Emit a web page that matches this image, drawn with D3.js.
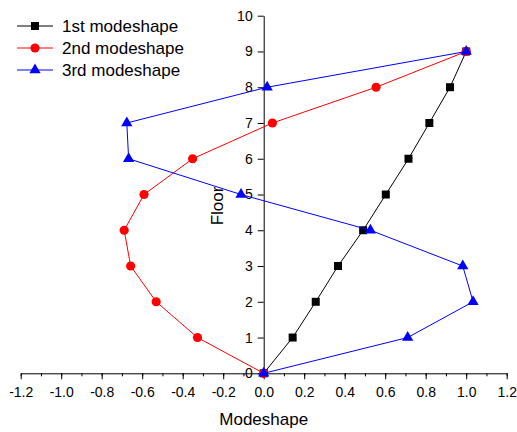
<!DOCTYPE html>
<html>
<head>
<meta charset="utf-8">
<script src="https://cdn.jsdelivr.net/npm/d3@7"></script>
<style>
  body { margin: 0; background: #fff; }
  text { font-family: "Liberation Sans", Arial, sans-serif; fill: #000; }
</style>
</head>
<body>
<div id="chart"></div>
<script>
var floors = [0, 1, 2, 3, 4, 5, 6, 7, 8, 9];
var mode1 = [0, 0.143, 0.257, 0.367, 0.491, 0.603, 0.715, 0.818, 0.920, 1.0];
var mode2 = [0, -0.327, -0.531, -0.657, -0.689, -0.591, -0.351, 0.043, 0.555, 1.0];
var mode3 = [0, 0.711, 1.034, 0.983, 0.527, -0.112, -0.667, -0.676, 0.017, 1.0];
var seriesNames = ["1st modeshape", "2nd modeshape", "3rd modeshape"];
var xTicks = d3.range(-12, 13, 2).map(v => v / 10);
var xMinor = d3.range(-12, 13, 1).map(v => v / 10);
var yTicks = d3.range(0, 11);

var width = 517, height = 432;
var color_1 = "#000000", color_2 = "#ff0000", color_3 = "#0000ff";

var svg = d3.select("#chart")
    .append("svg")
    .attr("width", width)
    .attr("height", height);

var x = d3.scaleLinear().domain([-1.2, 1.2]).range([20.7, 506.7]);
var y = d3.scaleLinear().domain([0, 10]).range([373.3, 15.7]);

//axis label on y, drawn first so lines go over it
svg.append("text")
    .attr("transform", "translate(223,206) rotate(-90)")
    .attr("text-anchor", "middle")
    .style("font-size", "17px")
    .text("Floor");

//x axis, minor ticks then major
svg.append("g")
    .attr("transform", "translate(0," + y(0) + ")")
    .call(d3.axisBottom(x).tickValues(xMinor).tickSize(3).tickFormat(""))
    .call(g => g.select(".domain").remove());

var gx = svg.append("g")
    .attr("transform", "translate(0," + y(0) + ")")
    .call(d3.axisBottom(x).tickValues(xTicks).tickSizeInner(6).tickSizeOuter(0)
        .tickPadding(8).tickFormat(d => d.toFixed(1)));
gx.selectAll("text").style("font-size", "14px").attr("font-family", null);

//y axis at x = 0
var gy = svg.append("g")
    .attr("transform", "translate(" + x(0) + ",0)")
    .call(d3.axisLeft(y).tickValues(yTicks).tickSizeInner(6).tickSizeOuter(0).tickPadding(5));
gy.selectAll("text").style("font-size", "14px");

svg.selectAll(".domain, .tick line").attr("stroke", "#000").attr("stroke-width", 1);
svg.selectAll("g").attr("font-family", null);

svg.append("text")
    .attr("x", x(0))
    .attr("y", 425)
    .attr("text-anchor", "middle")
    .style("font-size", "17px")
    .text("Modeshape");

var series = [
    { name: seriesNames[0], values: mode1, color: color_1, shape: d3.symbolSquare, size: 64 },
    { name: seriesNames[1], values: mode2, color: color_2, shape: d3.symbolCircle, size: 66 },
    { name: seriesNames[2], values: mode3, color: color_3, shape: d3.symbolTriangle, size: 55 }
];

var line = d3.line()
    .x(d => x(d[0]))
    .y(d => y(d[1]));

series.forEach(s => {
    let pts = s.values.map((v, i) => [v, floors[i]]);
    svg.append("path")
        .attr("d", line(pts))
        .attr("fill", "none")
        .attr("stroke", s.color)
        .attr("stroke-width", 1);
    svg.selectAll(null)
        .data(pts)
        .enter()
        .append("path")
        .attr("d", d3.symbol().type(s.shape).size(s.size))
        .attr("transform", d => "translate(" + x(d[0]) + "," + y(d[1]) + ")")
        .attr("fill", s.color);
});

//legend
var legend = svg.append("g");
series.forEach((s, i) => {
    let ly = 26 + i * 22;
    legend.append("line")
        .attr("x1", 17).attr("x2", 53)
        .attr("y1", ly).attr("y2", ly)
        .attr("stroke", s.color);
    legend.append("path")
        .attr("d", d3.symbol().type(s.shape).size(s.size))
        .attr("transform", "translate(35," + ly + ")")
        .attr("fill", s.color);
    legend.append("text")
        .attr("x", 62)
        .attr("y", ly)
        .attr("dy", "0.35em")
        .style("font-size", "17px")
        .text(s.name);
});
</script>
</body>
</html>
